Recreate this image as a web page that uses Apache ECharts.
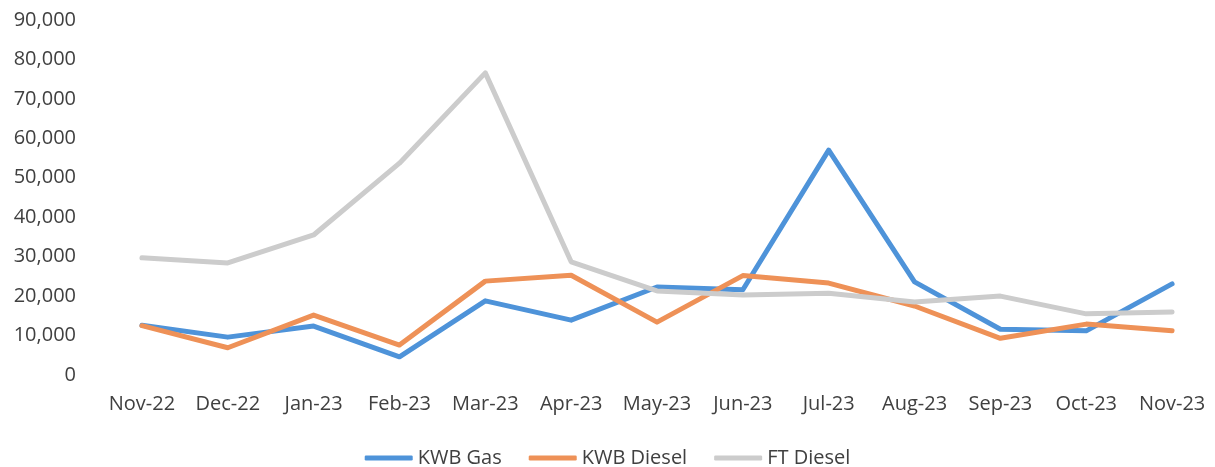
<!DOCTYPE html>
<html>
<head>
<meta charset="utf-8">
<script src="https://cdn.jsdelivr.net/npm/echarts@6/dist/echarts.min.js"></script>
<style>
  html, body { margin: 0; padding: 0; background: #fff; }
  #chart { width: 1215px; height: 467px; }
</style>
</head>
<body>
<div id="chart"></div>
<script>
const months = ['Nov-22', 'Dec-22', 'Jan-23', 'Feb-23', 'Mar-23', 'Apr-23', 'May-23',
  'Jun-23', 'Jul-23', 'Aug-23', 'Sep-23', 'Oct-23', 'Nov-23']
const kwbGas = [12600, 9600, 12400, 4600, 18800, 13900, 22300, 21600, 57000, 23600, 11600, 11200, 23100]
const kwbDiesel = [12500, 6900, 15200, 7600, 23800, 25300, 13400, 25200, 23300, 17500, 9300, 12900, 11200]
const ftDiesel = [29700, 28400, 35500, 53700, 76600, 28700, 21300, 20300, 20700, 18500, 20000, 15500, 16000]

const font = 'Open Sans'
const textColor = '#404040'

function lineSeries (name, data, color) {
  return {
    name: name,
    type: 'line',
    data: data,
    symbol: 'none',
    lineStyle: { color: color, width: 5, cap: 'round', join: 'round' },
    itemStyle: { color: color }
  }
}

let myChart = echarts.init(document.getElementById('chart'))
let option = {
  animation: false,
  grid: { left: 99, right: 0, top: 20, bottom: 92 },
  legend: {
    left: 'center',
    top: 443,
    icon: 'roundRect',
    itemWidth: 48,
    itemHeight: 5,
    itemGap: 27,
    textStyle: { color: textColor, fontFamily: font, fontSize: 20 }
  },
  xAxis: {
    type: 'category',
    data: months,
    axisLine: { show: false },
    axisTick: { show: false },
    axisLabel: { color: textColor, fontFamily: font, fontSize: 20, margin: 19, interval: 0 }
  },
  yAxis: {
    type: 'value',
    min: 0,
    max: 90000,
    interval: 10000,
    splitLine: { show: false },
    axisLine: { show: false },
    axisTick: { show: false },
    axisLabel: {
      color: textColor,
      fontFamily: font,
      fontSize: 20,
      margin: 23,
      formatter: v => v.toLocaleString('en-US')
    }
  },
  series: [
    lineSeries('KWB Gas', kwbGas, '#4E93D9'),
    lineSeries('KWB Diesel', kwbDiesel, '#EE9157'),
    lineSeries('FT Diesel', ftDiesel, '#CCCCCC')
  ]
}
myChart.setOption(option)
</script>
</body>
</html>
